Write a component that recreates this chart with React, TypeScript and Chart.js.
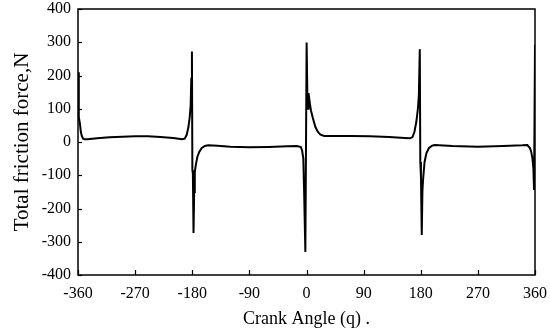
import React, { useEffect, useRef } from "react";
import { Chart, registerables } from "chart.js";

Chart.register(...registerables);

const angles: number[] = [
  -360, -359, -358.5, -357, -355.5, -354, -352, -349, -345, -330, -310, -290, -270, -250, -230, -210, -196, -192,
  -189, -186, -184, -182.5, -181.5, -180.5, -179.8, -179, -178, -177, -176, -174, -172, -169, -165, -160, -155,
  -140, -120, -90, -60, -30, -15, -9, -7, -5, -3.8, -1.8, 0.2, 1.5, 2.5, 3.2, 5, 7, 10, 14, 18, 22, 28, 40, 70,
  100, 130, 155, 163, 167, 170, 173, 175.5, 177, 178.5, 179.3, 180.3, 181.6, 182.6, 183.6, 186, 189, 193, 198,
  202, 230, 270, 310, 340, 348, 352, 354, 356, 357.5, 358.5, 360,
];

const force: number[] = [
  210, 120, 75, 55, 30, 18, 10, 8, 8, 11, 14, 16, 17, 17, 15, 12, 8, 10,
  20, 45, 75, 110, 190, 272, -85, -95, -274, -150, -90, -65, -45, -30, -18, -12, -10,
  -11, -14, -16, -15, -13, -12, -15, -25, -50, -144, -331, 299, 120, 100, 147, 120, 95, 72, 45, 30, 22, 18, 18, 18,
  17, 15, 12, 11, 15, 30, 60, 100, 140, 279, -60, -104, -280, -150, -114, -60, -33, -18, -11,
  -9, -12, -14, -12, -10, -9, -18, -29, -50, -80, -144, 292,
];

const xTitle = "Crank Angle (q) .";
const yTitle = "Total friction force,N";

const framePlugin = {
  id: "frame",
  afterDraw(chart: any) {
    const { ctx, chartArea } = chart;
    const { left, right, top, bottom } = chartArea;
    ctx.save();
    ctx.strokeStyle = "#000";
    ctx.lineWidth = 1.5;
    ctx.strokeRect(left, top, right - left, bottom - top);
    ctx.lineWidth = 1.2;
    const xs = chart.scales.x;
    xs.ticks.forEach((t: any) => {
      const px = Math.round(xs.getPixelForValue(t.value)) + 0.5;
      ctx.beginPath();
      ctx.moveTo(px, bottom);
      ctx.lineTo(px, bottom - 5);
      ctx.stroke();
    });
    const ys = chart.scales.y;
    ys.ticks.forEach((t: any) => {
      const py = Math.round(ys.getPixelForValue(t.value)) + 0.5;
      ctx.beginPath();
      ctx.moveTo(left, py);
      ctx.lineTo(left + 4, py);
      ctx.stroke();
    });
    ctx.restore();
  },
};

export default function App() {
  const ref = useRef<HTMLCanvasElement>(null);
  useEffect(() => {
    document.body.style.margin = "0";
    const data = angles.map((a, i) => ({ x: a, y: force[i] }));
    const chart = new Chart(ref.current!, {
      type: "line",
      data: {
        datasets: [
          {
            data,
            borderColor: "#000",
            borderWidth: 2,
            pointRadius: 0,
            tension: 0,
            fill: false,
          },
        ],
      },
      options: {
        animation: false,
        responsive: false,
        events: [],
        layout: { padding: { top: 9, right: 15, left: 0, bottom: 0 } },
        plugins: { legend: { display: false }, tooltip: { enabled: false } },
        scales: {
          x: {
            type: "linear",
            min: -360,
            max: 360,
            grid: { display: false, drawTicks: false },
            border: { display: false },
            ticks: {
              stepSize: 90,
              padding: 9,
              color: "#000",
              font: { family: "'Liberation Serif', 'Times New Roman', serif", size: 16 },
              maxRotation: 0,
            },
            title: {
              display: true,
              text: xTitle,
              color: "#000",
              font: { family: "'Liberation Serif', 'Times New Roman', serif", size: 18 },
              padding: { top: 0, bottom: 0 },
            },
            afterFit(scale: any) {
              scale.height = 55;
              scale.paddingLeft = 0;
              scale.paddingRight = 0;
            },
          },
          y: {
            type: "linear",
            min: -400,
            max: 400,
            grid: { display: false, drawTicks: false },
            border: { display: false },
            ticks: {
              stepSize: 100,
              padding: 7,
              color: "#000",
              font: { family: "'Liberation Serif', 'Times New Roman', serif", size: 16 },
            },
            title: {
              display: true,
              text: yTitle,
              color: "#000",
              font: { family: "'Liberation Serif', 'Times New Roman', serif", size: 21 },
              padding: { top: 10, bottom: 0 },
            },
            afterFit(scale: any) {
              scale.width = 78;
              scale.paddingTop = 0;
              scale.paddingBottom = 0;
            },
          },
        },
      },
      plugins: [framePlugin],
    });
    return () => chart.destroy();
  }, []);
  return <canvas ref={ref} width={550} height={330} style={{ display: "block" }} />;
}
